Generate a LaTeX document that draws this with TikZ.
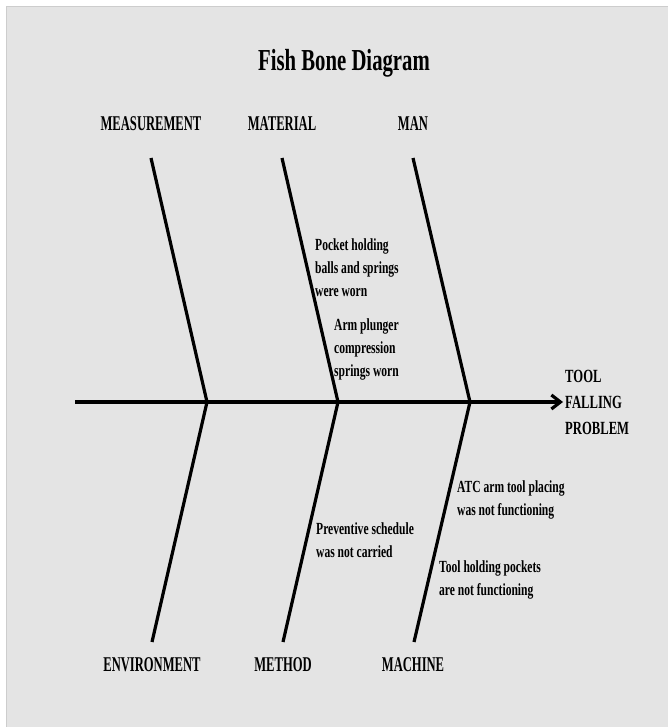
\documentclass[tikz,border=0pt]{standalone}
\usepackage{fontspec}
\setmainfont{Liberation Serif}[FakeStretch=0.68]
\newfontfamily\catfont{Liberation Serif}[FakeStretch=0.6]
\usetikzlibrary{arrows.meta}
\definecolor{fishbg}{RGB}{228,228,228}
\definecolor{fishedge}{RGB}{205,205,205}

\begin{document}
\begin{tikzpicture}[x=1pt,y=-1pt,>=Stealth,
    bone/.style={line width=3.2pt,black},
    cat/.style={font=\catfont\fontsize{21}{24}\selectfont\bfseries,inner sep=0pt},
    cause/.style={font=\fontsize{17}{23}\selectfont\bfseries,align=left,anchor=west,inner sep=0pt}]
    \useasboundingbox (0,0) rectangle (668,727);
    \fill[white] (0,0) rectangle (668,727);
    \fill[fishbg] (6,7) rectangle (668,727);
    \draw[fishedge,line width=1pt] (6,727) -- (6,7) -- (668,7);

    \node[font=\fontsize{30.5}{36}\selectfont\bfseries,inner sep=0pt] (title) at (344,63) {Fish Bone Diagram};

    \node[cat] (measurement) at (151,124) {MEASUREMENT};
    \node[cat] (material) at (282,124) {MATERIAL};
    \node[cat] (man) at (413,124) {MAN};
    \node[cat] (environment) at (152,665) {ENVIRONMENT};
    \node[cat] (method) at (283,665) {METHOD};
    \node[cat] (machine) at (413,665) {MACHINE};

    \node[align=left,anchor=west,inner sep=0pt,font=\fontsize{18.6}{26}\selectfont\bfseries] (effect) at (565,402) {TOOL\\FALLING\\PROBLEM};

    \coordinate (tail) at (75,402);
    \coordinate (j1) at (207,402);
    \coordinate (j2) at (338,402);
    \coordinate (j3) at (470,402);
    \coordinate (t1) at (151,158);
    \coordinate (t2) at (282,158);
    \coordinate (t3) at (413,158);
    \coordinate (b1) at (152,642);
    \coordinate (b2) at (283,642);
    \coordinate (b3) at (414,642);

    \draw[bone,-{Straight Barb[length=9pt,width=14pt]}] (tail) -- ([xshift=-2pt]effect.west);
    \draw[bone] (t1) -- (j1) -- (b1);
    \draw[bone] (t2) -- (j2) -- (b2);
    \draw[bone] (t3) -- (j3) -- (b3);

    \node[cause] (c1) at (315,268) {Pocket holding\\balls and springs\\were worn};
    \node[cause] (c2) at (334,349) {Arm plunger\\compression\\springs worn};
    \node[cause] (c3) at (457,500) {ATC arm tool placing\\was not functioning};
    \node[cause] (c4) at (316,540) {Preventive schedule\\was not carried};
    \node[cause] (c5) at (439,580) {Tool holding pockets\\are not functioning};
\end{tikzpicture}
\end{document}
